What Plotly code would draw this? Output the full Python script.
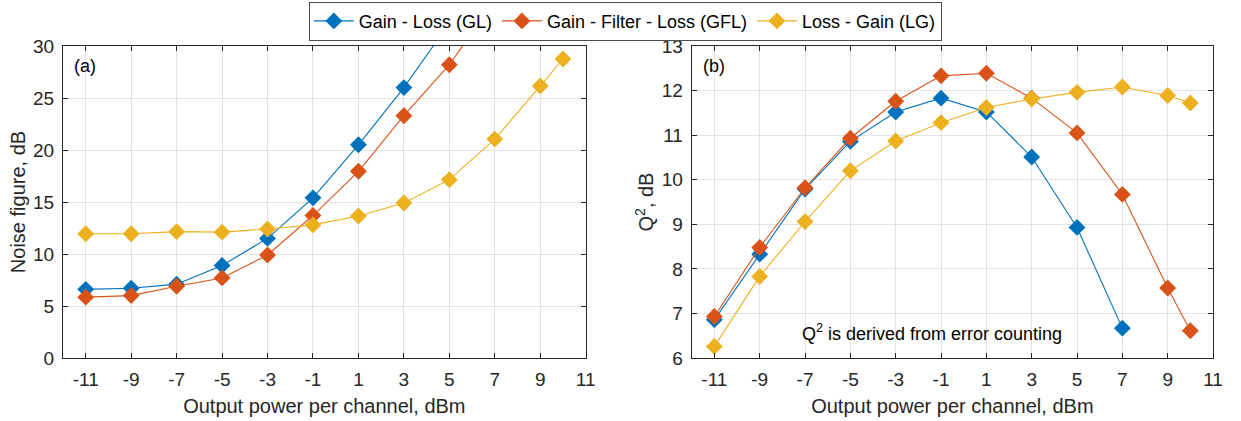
import plotly.graph_objects as go
from plotly.subplots import make_subplots

# ---- data ----
nf_power_gl = [-11, -9, -7, -5, -3, -1, 1, 3, 5]
nf_gl = [6.6, 6.7, 7.1, 8.9, 11.5, 15.4, 20.5, 26.0, 32.2]
nf_power_gfl = [-11, -9, -7, -5, -3, -1, 1, 3, 5, 7]
nf_gfl = [5.85, 6.0, 6.9, 7.7, 9.9, 13.7, 17.95, 23.3, 28.2, 34.4]
nf_power_lg = [-11, -9, -7, -5, -3, -1, 1, 3, 5, 7, 9, 10]
nf_lg = [11.95, 11.95, 12.15, 12.1, 12.4, 12.8, 13.65, 14.9, 17.15, 21.05, 26.15, 28.75]

q_power_gl = [-11, -9, -7, -5, -3, -1, 1, 3, 5, 7]
q_gl = [6.86, 8.33, 9.79, 10.86, 11.52, 11.83, 11.52, 10.51, 8.93, 6.67]
q_power_gfl = [-11, -9, -7, -5, -3, -1, 1, 3, 5, 7, 9, 10]
q_gfl = [6.93, 8.48, 9.82, 10.93, 11.76, 12.33, 12.39, 11.83, 11.05, 9.67, 7.57, 6.61]
q_power_lg = [-11, -9, -7, -5, -3, -1, 1, 3, 5, 7, 9, 10]
q_lg = [6.26, 7.83, 9.06, 10.2, 10.87, 11.28, 11.62, 11.81, 11.96, 12.08, 11.89, 11.72]

x_ticks = [-11, -9, -7, -5, -3, -1, 1, 3, 5, 7, 9, 11]
x_tick_labels = ["-11", "-9", "-7", "-5", "-3", "-1", "1", "3", "5", "7", "9", "11"]
nf_ticks = [0, 5, 10, 15, 20, 25, 30]
q_ticks = [6, 7, 8, 9, 10, 11, 12, 13]
series_names = ["Gain - Loss (GL)", "Gain - Filter - Loss (GFL)", "Loss - Gain (LG)"]
colors = ["#0072BD", "#D95319", "#EDB120"]

FONT = "Liberation Sans, Arial, sans-serif"
TXT = "#262626"

fig = make_subplots(rows=1, cols=2, horizontal_spacing=0.0)

left = [(nf_power_gl, nf_gl), (nf_power_gfl, nf_gfl), (nf_power_lg, nf_lg)]
right = [(q_power_gl, q_gl), (q_power_gfl, q_gfl), (q_power_lg, q_lg)]

for i, (xs, ys) in enumerate(left):
    fig.add_trace(go.Scatter(x=xs, y=ys, mode="lines+markers", name=series_names[i],
                             line=dict(color=colors[i], width=1.1),
                             marker=dict(symbol="diamond", size=13, color=colors[i]),
                             legendgroup=str(i)), row=1, col=1)
for i, (xs, ys) in enumerate(right):
    fig.add_trace(go.Scatter(x=xs, y=ys, mode="lines+markers", name=series_names[i],
                             line=dict(color=colors[i], width=1.1),
                             marker=dict(symbol="diamond", size=13, color=colors[i]),
                             showlegend=False, legendgroup=str(i)), row=1, col=2)

axis_common = dict(showline=True, linecolor=TXT, linewidth=1, mirror="ticks",
                   ticks="inside", ticklen=5, tickcolor=TXT, automargin=False,
                   showgrid=True, gridcolor="#e3e3e3", gridwidth=1, zeroline=False,
                   ticklabelstandoff=4,
                   tickfont=dict(family=FONT, size=19, color=TXT))

fig.update_xaxes(**axis_common, range=[-12, 11], tickvals=x_ticks, ticktext=x_tick_labels,
                 title=dict(text="Output power per channel, dBm",
                            font=dict(family=FONT, size=20, color=TXT), standoff=10))
fig.update_yaxes(**axis_common)

fig.update_xaxes(domain=[0.0, 0.4545], row=1, col=1)
fig.update_xaxes(domain=[0.5467, 1.0], row=1, col=2)
fig.update_yaxes(range=[0, 30], tickvals=nf_ticks, ticktext=[str(v) for v in nf_ticks], row=1, col=1,
                 title=dict(text="Noise figure, dB", font=dict(family=FONT, size=20, color=TXT), standoff=2))
fig.update_yaxes(range=[6, 13], tickvals=q_ticks, ticktext=[str(v) for v in q_ticks], row=1, col=2,
                 title=dict(text="Q<sup>2</sup>, dB", font=dict(family=FONT, size=20, color=TXT), standoff=2))

fig.add_annotation(text="(a)", x=-11.62, y=28.1, xref="x", yref="y", showarrow=False,
                   xanchor="left", font=dict(family=FONT, size=18, color="#000000"))
fig.add_annotation(text="(b)", x=-11.6, y=12.55, xref="x2", yref="y2", showarrow=False,
                   xanchor="left", font=dict(family=FONT, size=18, color="#000000"))
fig.add_annotation(text="Q<sup>2</sup> is derived from error counting", x=-1.4, y=6.58,
                   xref="x2", yref="y2", showarrow=False,
                   font=dict(family=FONT, size=18, color="#000000"))

fig.update_layout(
    width=1241, height=421,
    margin=dict(l=63, r=28, t=46, b=63, autoexpand=False),
    paper_bgcolor="white", plot_bgcolor="white",
    font=dict(family=FONT, color=TXT),
    legend=dict(orientation="h", x=0.489, xanchor="center", y=1.142, yanchor="top",
                bordercolor="#4d4d4d", borderwidth=1, bgcolor="white",
                font=dict(family=FONT, size=18, color="#000000"),
                itemwidth=40, tracegroupgap=0),
    showlegend=True,
)

fig.write_html("out.html", config={"displayModeBar": False},
               post_script="document.body.style.margin='0px';")
